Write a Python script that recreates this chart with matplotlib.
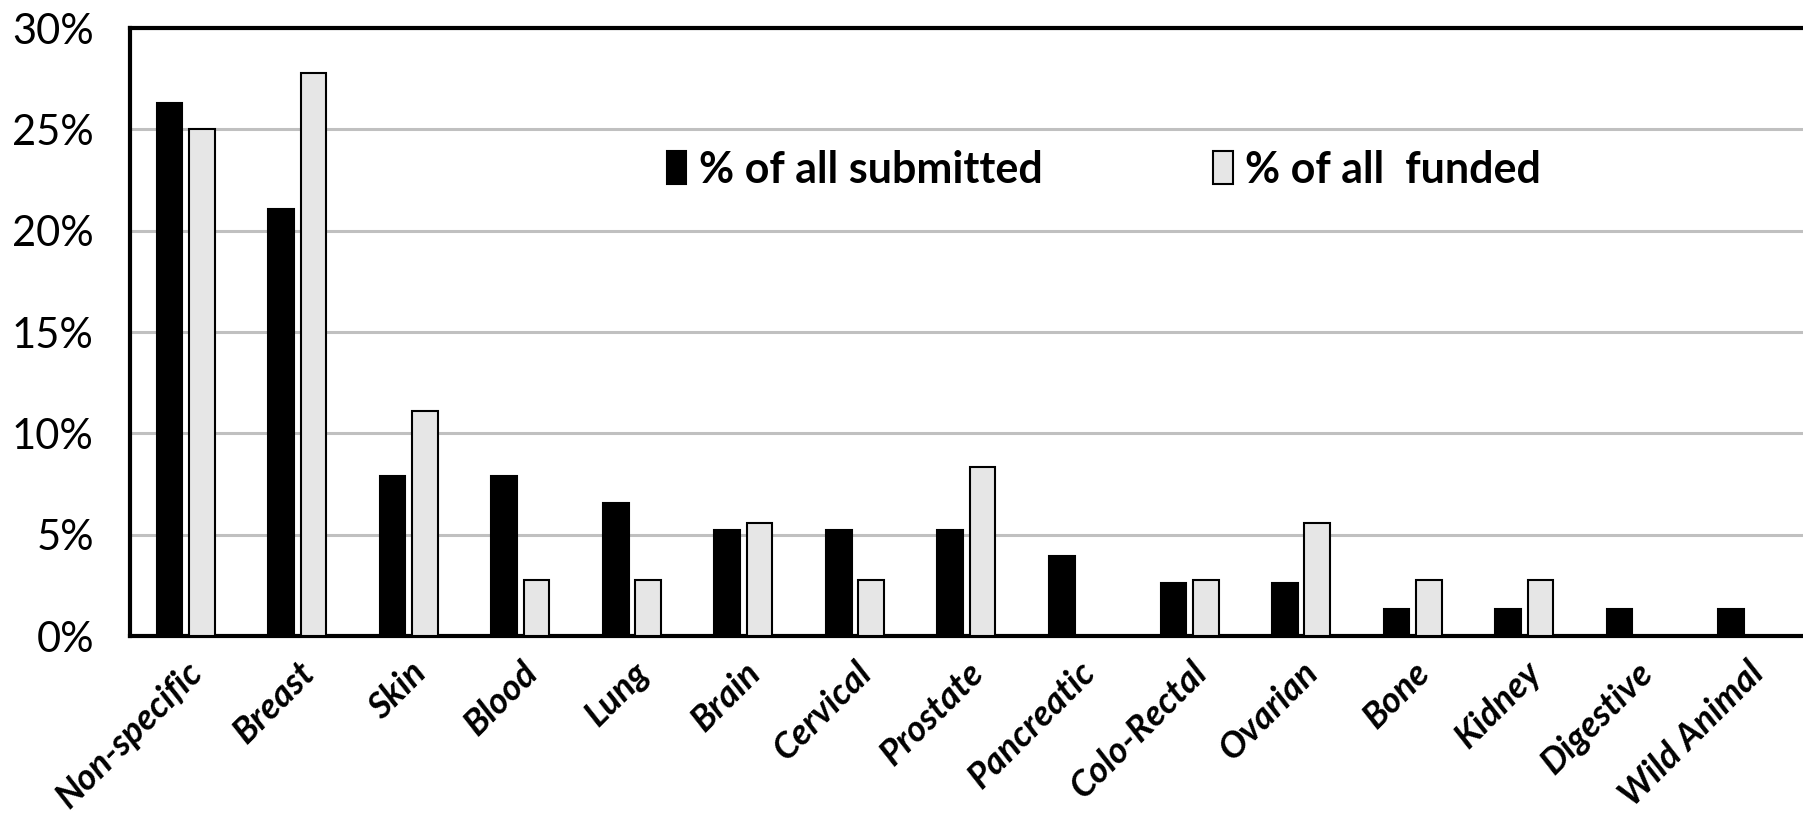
import matplotlib
matplotlib.use("Agg")
import matplotlib.pyplot as plt
from matplotlib.patches import Patch
from matplotlib.ticker import FuncFormatter
import numpy as np

# ------------------------------------------------------------
# data (percent of proposals)
# ------------------------------------------------------------
categories = ["Non-specific", "Breast", "Skin", "Blood", "Lung", "Brain",
              "Cervical", "Prostate", "Pancreatic", "Colo-Rectal", "Ovarian",
              "Bone", "Kidney", "Digestive", "Wild Animal"]
submitted = [26.3, 21.05, 7.89, 7.89, 6.58, 5.26, 5.26, 5.26, 3.95,
             2.63, 2.63, 1.32, 1.32, 1.32, 1.32]
funded = [25.0, 27.78, 11.11, 2.78, 2.78, 5.56, 2.78, 8.33, 0.0,
          2.78, 5.56, 2.78, 2.78, 0.0, 0.0]
yticks = [0, 5, 10, 15, 20, 25, 30]

plt.rcParams['font.family'] = ['Lato', 'DejaVu Sans']

fig = plt.figure(figsize=(18.03, 8.24), dpi=100)
ax = fig.add_axes([0.0721, 0.228, 0.9279, 0.738])

x = np.arange(len(categories))
w = 0.23
off = 0.145
ax.bar(x - off, submitted, w, color="black", edgecolor="black", linewidth=1.5, zorder=3)
ax.bar(x + off, funded, w, color="#e6e6e6", edgecolor="black", linewidth=1.5, zorder=3)

ax.set_xlim(-0.5, len(categories) - 0.5)
ax.set_ylim(0, 30)
ax.set_yticks(yticks)
ax.yaxis.set_major_formatter(FuncFormatter(lambda v, p: f"{v:.0f}%"))
ax.grid(axis="y", color="#c0c0c0", linewidth=2.2, zorder=0)
ax.tick_params(axis="y", length=0, pad=26, labelsize=30)
ax.tick_params(axis="x", length=0, pad=14)

ax.set_xticks(x)
ax.set_xticklabels(categories, rotation=45, ha="right", rotation_mode="anchor",
                   fontsize=26, fontweight="bold", fontstyle="italic")

for s in ["left", "top", "bottom"]:
    ax.spines[s].set_linewidth(3)
    ax.spines[s].set_color("black")
ax.spines["right"].set_visible(False)

handles = [Patch(facecolor="black", edgecolor="black", linewidth=1.5),
           Patch(facecolor="#e6e6e6", edgecolor="black", linewidth=1.5)]
ax.legend(handles, ["% of all submitted", "% of all  funded"], ncol=2,
          loc="center left", bbox_to_anchor=(0.321, 0.767), frameon=False,
          prop={"size": 31, "weight": "bold"}, handlelength=0.45, handleheight=0.8,
          handletextpad=0.3, columnspacing=3.95, borderpad=0, borderaxespad=0)

fig.savefig("out.png", dpi=100)
